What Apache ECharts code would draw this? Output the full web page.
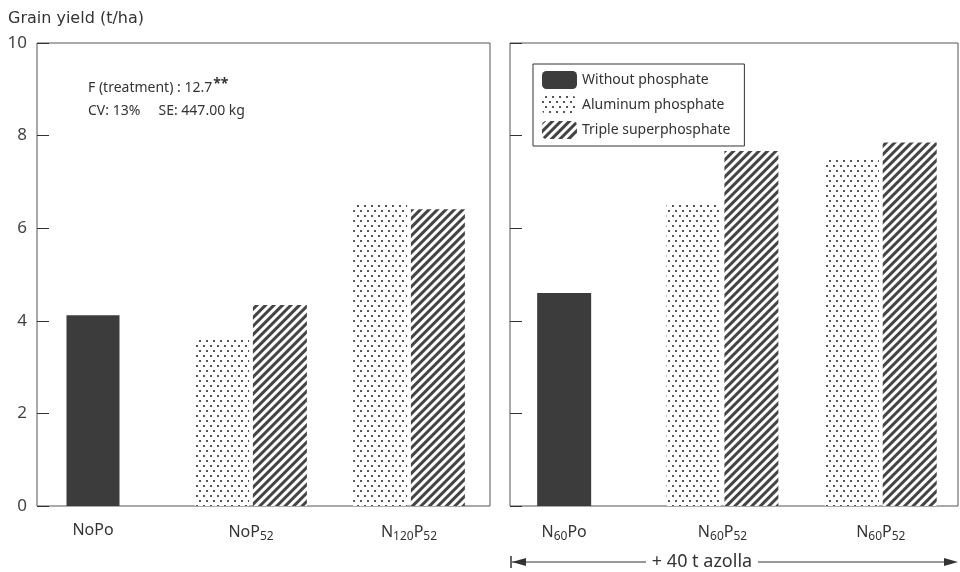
<!DOCTYPE html>
<html lang="en">
<head>
  <meta charset="UTF-8">
  <script src="https://cdn.jsdelivr.net/npm/echarts@6/dist/echarts.min.js"></script>
  <title>Grain yield</title>
</head>
<body style="margin:0">
  <div id="main" style="width: 960px;height:572px;"></div>
  <script type="text/javascript">
    // categories (rich text markup: {s|..} = subscript)
    var leftCategories = ['NoPo', 'NoP{s|52}', 'N{s|120}P{s|52}'];
    var rightCategories = ['N{s|60}Po', 'N{s|60}P{s|52}', 'N{s|60}P{s|52}'];
    var seriesNames = ['Without phosphate', 'Aluminum phosphate', 'Triple superphosphate'];

    // grain yield, t/ha
    var leftWithout = [4.12, '-', '-'];
    var leftAluminum = ['-', 3.63, 6.52];
    var leftTriple = ['-', 4.34, 6.41];
    var rightWithout = [4.6, '-', '-'];
    var rightAluminum = ['-', 6.52, 7.52];
    var rightTriple = ['-', 7.67, 7.85];

    var yTicks = [0, 2, 4, 6, 8, 10];

    var myChart = echarts.init(document.getElementById('main'));
    var font = 'Noto Sans';
    var ink = '#333';

    var darkStyle = { color: '#3c3c3c' };
    var dotStyle = {
      color: '#fff',
      decal: {
        symbol: 'rect', symbolSize: 1, color: '#555',
        dashArrayX: [[1.3, 4.7], [0, 3, 1.3, 1.7]],
        dashArrayY: [1.3, 3]
      }
    };
    var hatchStyle = {
      color: '#fff',
      decal: {
        symbol: 'rect', symbolSize: 1, color: '#444',
        dashArrayX: [1, 0],
        dashArrayY: [2.4, 2.3],
        rotation: -Math.PI / 4
      }
    };

    var yAxisBase = function (showLabel, gridIndex) {
      return {
        type: 'value', gridIndex: gridIndex, min: yTicks[0], max: yTicks[yTicks.length - 1], interval: 2,
        axisLine: { show: false },
        axisTick: { show: true, inside: true, length: 12, lineStyle: { color: ink } },
        axisLabel: { show: showLabel, fontSize: 17, color: '#444', margin: 10, fontFamily: font },
        splitLine: { show: false }
      };
    };
    var richSub = {
      s: { fontSize: 12, fontFamily: font, color: ink, padding: [9, 0, 0, 0] }
    };
    var catAxis = function (data, gridIndex, show) {
      return {
        type: 'category', gridIndex: gridIndex, data: data, show: show,
        axisLine: { show: false }, axisTick: { show: false },
        axisLabel: { interval: 0, fontSize: 16, color: ink, fontFamily: font, margin: 16, rich: richSub }
      };
    };

    var option = {
      animation: false,
      backgroundColor: '#fff',
      textStyle: { fontFamily: font },
      legend: {
        data: seriesNames,
        orient: 'vertical',
        left: 533, top: 64,
        itemWidth: 35, itemHeight: 18, itemGap: 7, itemTextGap: 8,
        padding: [7, 14, 7, 9],
        borderColor: ink, borderWidth: 1,
        textStyle: { fontSize: 14, color: ink, fontFamily: font },
        itemStyle: { borderWidth: 0 }
      },
      grid: [
        { left: 37, top: 43, width: 453, height: 463, show: true, borderColor: '#555', borderWidth: 1, backgroundColor: 'transparent' },
        { left: 510, top: 43, width: 448, height: 463, show: true, borderColor: '#555', borderWidth: 1, backgroundColor: 'transparent' },
        { left: 14, top: 43, width: 474, height: 463 },
        { left: 485, top: 43, width: 475, height: 463 }
      ],
      xAxis: [
        { type: 'value', gridIndex: 0, show: false },
        { type: 'value', gridIndex: 1, show: false },
        catAxis(leftCategories, 2, true),
        catAxis(leftCategories, 2, false),
        catAxis(rightCategories, 3, true),
        catAxis(rightCategories, 3, false)
      ],
      yAxis: [
        yAxisBase(true, 0),
        yAxisBase(false, 1),
        { type: 'value', gridIndex: 2, min: 0, max: 10, show: false },
        { type: 'value', gridIndex: 3, min: 0, max: 10, show: false }
      ],
      series: [
        { name: seriesNames[0], type: 'bar', xAxisIndex: 2, yAxisIndex: 2, barWidth: 53, data: leftWithout, itemStyle: darkStyle },
        { name: seriesNames[1], type: 'bar', xAxisIndex: 3, yAxisIndex: 2, barWidth: 54, barGap: '7%', data: leftAluminum, itemStyle: dotStyle },
        { name: seriesNames[2], type: 'bar', xAxisIndex: 3, yAxisIndex: 2, barWidth: 54, barGap: '7%', data: leftTriple, itemStyle: hatchStyle },
        { name: seriesNames[0], type: 'bar', xAxisIndex: 4, yAxisIndex: 3, barWidth: 54, data: rightWithout, itemStyle: darkStyle },
        { name: seriesNames[1], type: 'bar', xAxisIndex: 5, yAxisIndex: 3, barWidth: 54, barGap: '7%', data: rightAluminum, itemStyle: dotStyle },
        { name: seriesNames[2], type: 'bar', xAxisIndex: 5, yAxisIndex: 3, barWidth: 54, barGap: '7%', data: rightTriple, itemStyle: hatchStyle }
      ],
      graphic: [
        {
          type: 'text', left: 8, top: 11,
          style: { text: 'Grain yield (t/ha)', fontSize: 16, fill: ink, fontFamily: 'DejaVu Sans' }
        },
        {
          type: 'text', left: 88, top: 77,
          style: {
            text: '{a|F (treatment) : 12.7}{sup|**}\n{a|CV: 13%     SE: 447.00 kg}',
            fontFamily: font,
            rich: {
              a: { fontSize: 14, fill: ink, lineHeight: 23, fontFamily: font },
              sup: { fontSize: 14, fill: ink, fontWeight: 'bold', padding: [0, 0, 8, 1], fontFamily: font }
            }
          }
        },
        // + 40 t azolla bracket
        { type: 'line', shape: { x1: 511, y1: 556, x2: 511, y2: 568 }, style: { stroke: ink, lineWidth: 1.5 } },
        { type: 'polygon', shape: { points: [[512, 562], [526, 558], [526, 566]] }, style: { fill: ink } },
        { type: 'line', shape: { x1: 512, y1: 562, x2: 646, y2: 562 }, style: { stroke: ink, lineWidth: 1.2 } },
        {
          type: 'text', x: 702, y: 562,
          style: { text: '+ 40 t azolla', fontSize: 18, fill: ink, fontFamily: font, align: 'center', verticalAlign: 'middle' }
        },
        { type: 'line', shape: { x1: 758, y1: 562, x2: 946, y2: 562 }, style: { stroke: ink, lineWidth: 1.2 } },
        { type: 'polygon', shape: { points: [[958, 562], [944, 558], [944, 566]] }, style: { fill: ink } }
      ]
    };
    myChart.setOption(option);
  </script>
</body>
</html>
